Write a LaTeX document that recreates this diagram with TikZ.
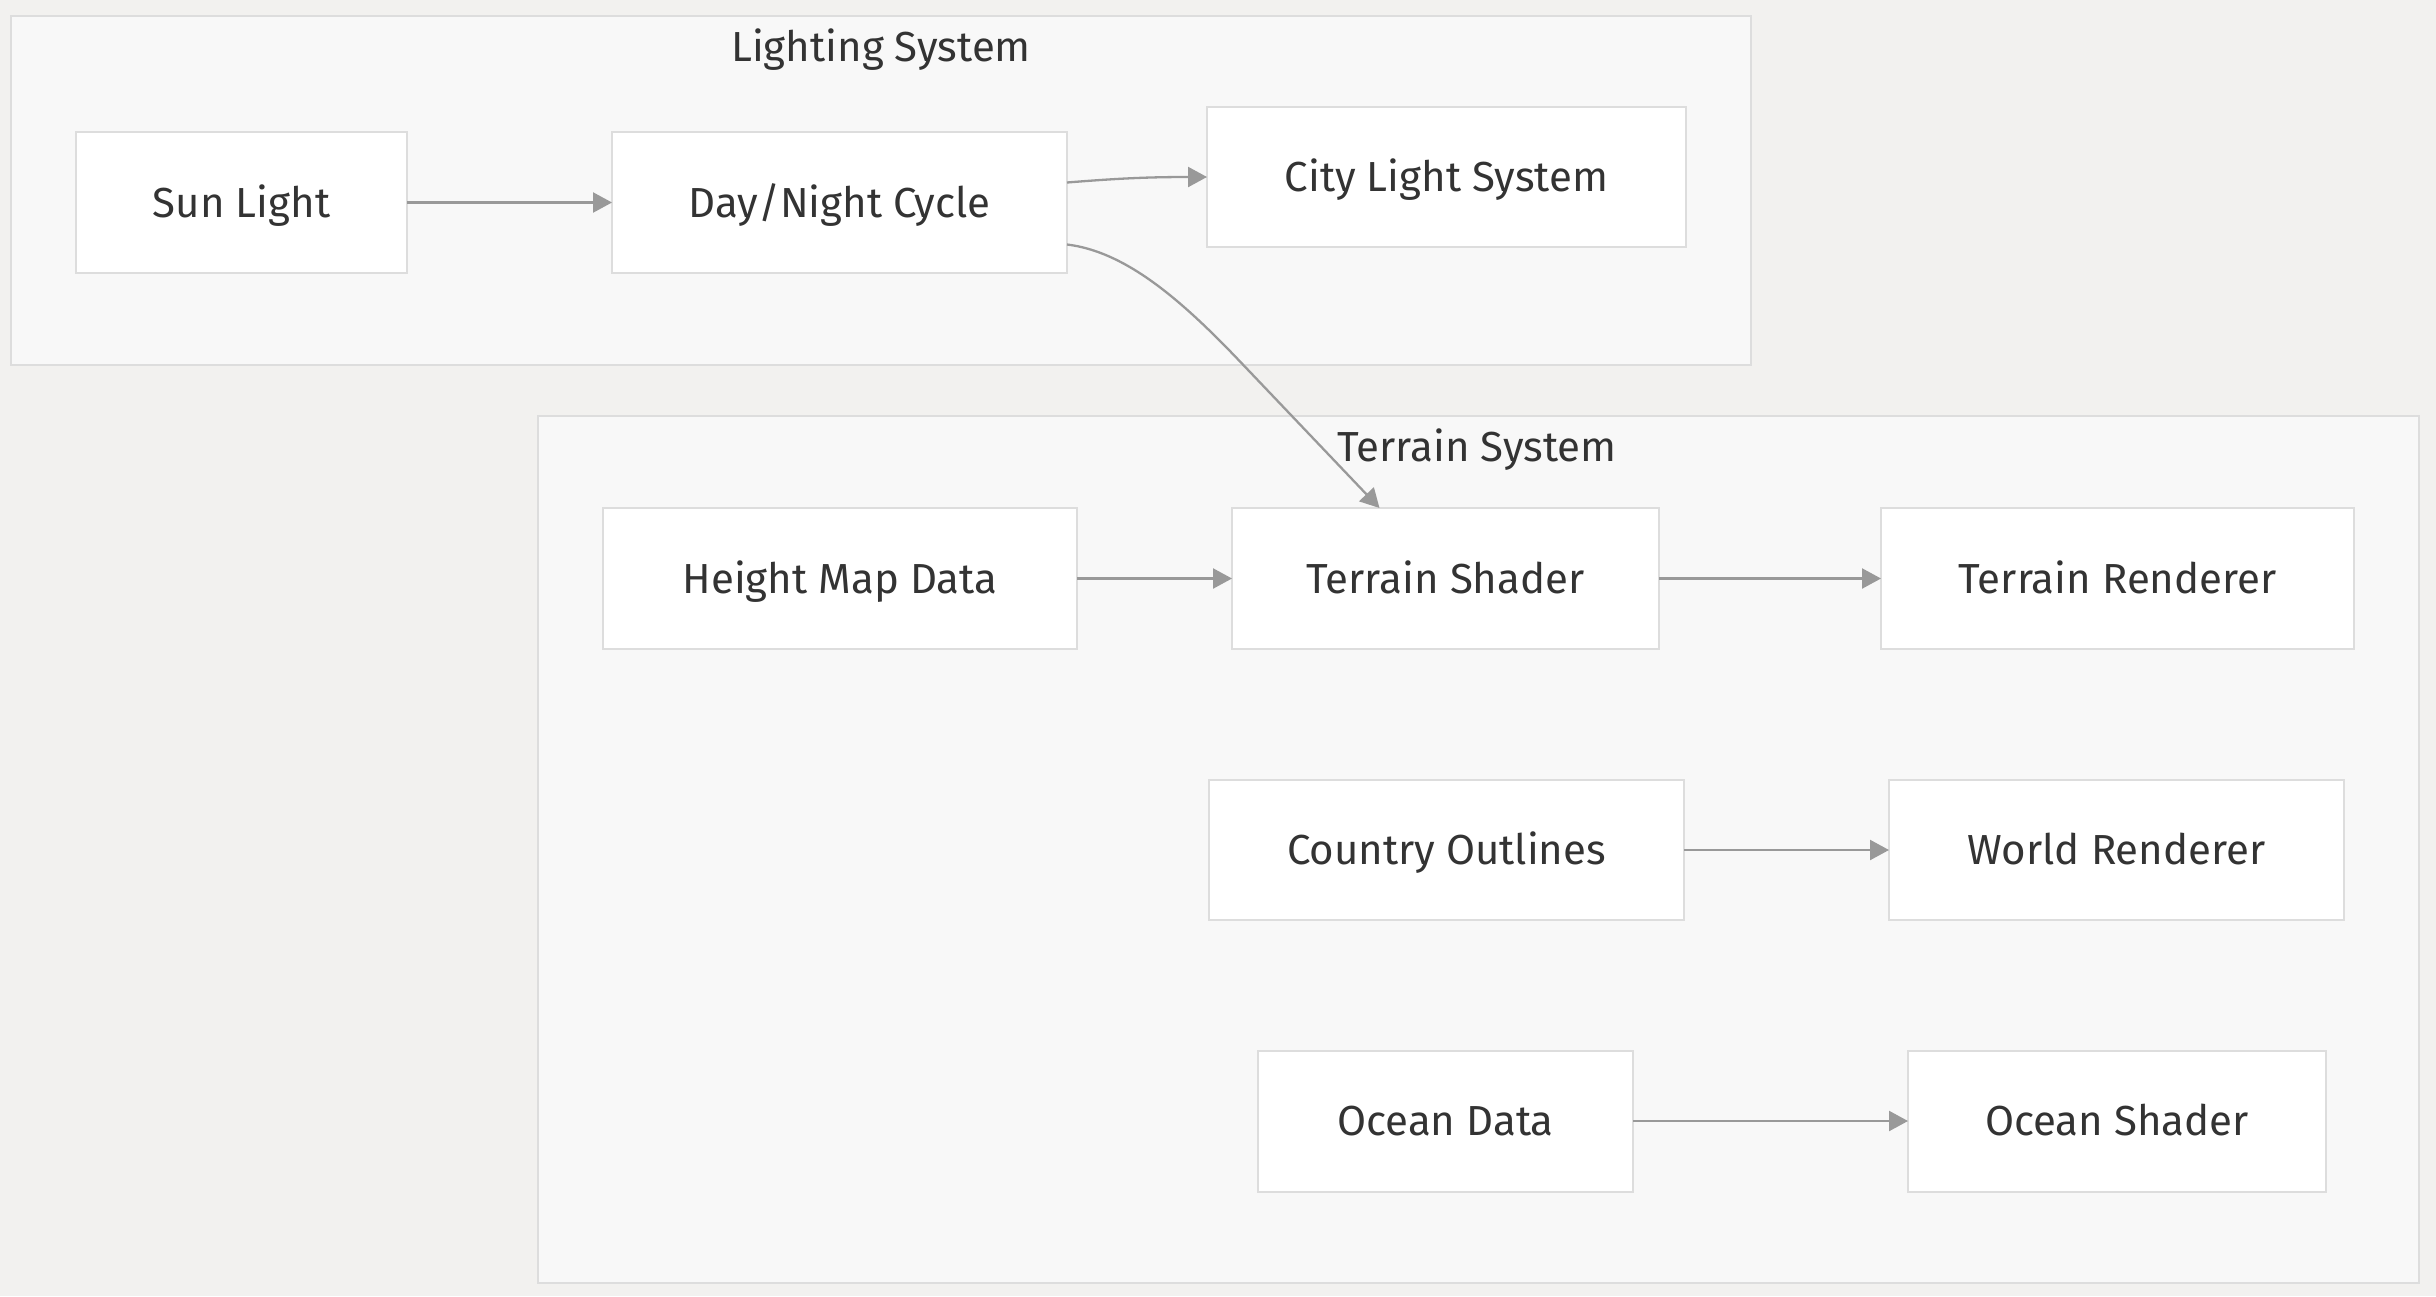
\documentclass[tikz,border=0pt]{standalone}
\usepackage{fontspec}
\setmainfont{Fira Sans}
\usetikzlibrary{arrows.meta,calc}
\definecolor{bgc}{HTML}{F2F1EF}
\definecolor{clfill}{HTML}{F8F8F8}
\definecolor{clline}{HTML}{DDDDDD}
\definecolor{ndline}{HTML}{DDDDDD}
\definecolor{edgec}{HTML}{999999}
\definecolor{txt}{HTML}{333333}
\tikzset{
  cluster/.style={draw=clline, fill=clfill, line width=2pt, inner sep=0pt, outer sep=0pt},
  cltitle/.style={text=txt, font=\fontsize{42}{50}\selectfont, inner sep=0pt, text height=29pt, text depth=0pt},
  box/.style={draw=ndline, fill=white, line width=2pt, text=txt, font=\fontsize{42}{50}\selectfont, inner sep=0pt, outer sep=0pt, minimum height=141pt, text height=29pt, text depth=0pt},
  link/.style={draw=edgec, line width=2.3pt, -{Triangle[length=19pt,width=20pt]}}
}
\begin{document}
\begin{tikzpicture}[x=1pt,y=-1pt]
\fill[bgc] (0,0) rectangle (2436,1296);
\useasboundingbox (0,0) rectangle (2436,1296);
% clusters
\node[cluster, minimum width=1740pt, minimum height=349pt] (lighting) at (881,190.5) {};
\node[cltitle] (lightingT) at (881,47) {Lighting System};
\node[cluster, minimum width=1881pt, minimum height=867pt] (terrain) at (1478.5,849.5) {};
\node[cltitle] (terrainT) at (1477,447) {Terrain System};
% nodes
\node[box, minimum width=331pt] (sun) at (241.5,202.5) {Sun Light};
\node[box, minimum width=455pt] (dn) at (839.5,202.5) {Day/Night Cycle};
\node[box, minimum width=479pt, minimum height=140pt] (city) at (1446.5,177) {City Light System};
\node[box, minimum width=474pt] (hm) at (840,578.5) {Height Map Data};
\node[box, minimum width=427pt] (ts) at (1445.5,578.5) {Terrain Shader};
\node[box, minimum width=473pt] (tr) at (2117.5,578.5) {Terrain Renderer};
\node[box, minimum width=475pt, minimum height=140pt] (co) at (1446.5,850) {Country Outlines};
\node[box, minimum width=455pt, minimum height=140pt] (wr) at (2116.5,850) {World Renderer};
\node[box, minimum width=375pt] (od) at (1445.5,1121) {Ocean Data};
\node[box, minimum width=418pt] (os) at (2117,1121) {Ocean Shader};
% edges
\draw[link] (sun) -- (dn);
\draw[link] ($(dn.east)+(0,-20)$) .. controls ($(dn.east)+(50,-24)$) and ($(city.west)+(-60,0)$) .. (city.west);
\draw[link] ($(dn.east)+(0,42)$) .. controls ($(dn.east)+(58,49)$) and ($(dn.east)+(113,96)$) .. ($(dn.east)+(173,159)$) -- ($(ts.north)+(-66,0)$);
\draw[link] (hm) -- (ts);
\draw[link] (ts) -- (tr);
\draw[link] (co) -- (wr);
\draw[link] (od) -- (os);
\end{tikzpicture}
\end{document}
